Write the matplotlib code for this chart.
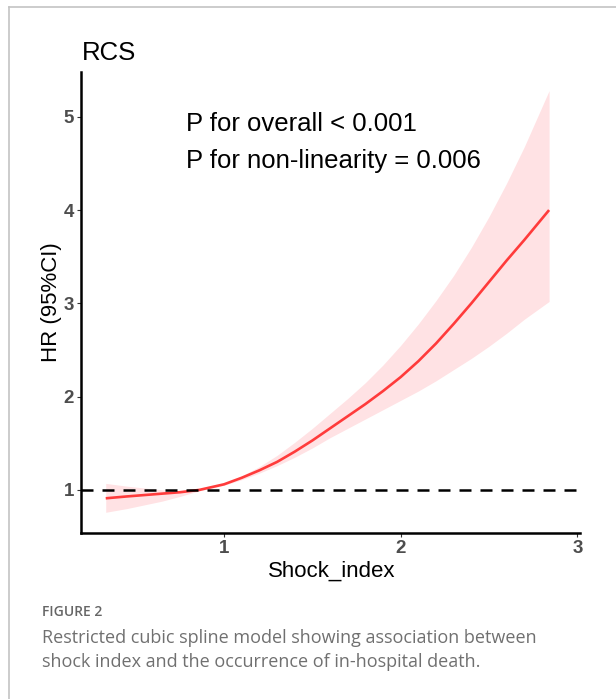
import matplotlib
matplotlib.use("Agg")
import matplotlib.pyplot as plt
from matplotlib.lines import Line2D

# Spline estimate of HR against shock index
shock_index = [0.33, 0.45, 0.55, 0.65, 0.75, 0.86, 1.0, 1.1, 1.2, 1.3, 1.4, 1.5, 1.6,
               1.7, 1.8, 1.9, 2.0, 2.1, 2.2, 2.3, 2.4, 2.5, 2.6, 2.7, 2.84]
hr = [0.91, 0.93, 0.945, 0.96, 0.975, 1.0, 1.06, 1.13, 1.21, 1.30, 1.41, 1.53, 1.66,
      1.79, 1.92, 2.06, 2.21, 2.38, 2.57, 2.78, 3.00, 3.23, 3.46, 3.68, 4.0]
hr_upper = [1.07, 1.04, 1.02, 1.0, 0.99, 1.0, 1.07, 1.15, 1.25, 1.37, 1.51, 1.66, 1.82,
            1.98, 2.15, 2.34, 2.55, 2.78, 3.03, 3.30, 3.60, 3.93, 4.29, 4.68, 5.28]
hr_lower = [0.76, 0.80, 0.84, 0.88, 0.93, 0.99, 1.05, 1.11, 1.18, 1.26, 1.35, 1.45, 1.56,
            1.66, 1.76, 1.86, 1.96, 2.06, 2.17, 2.29, 2.41, 2.54, 2.68, 2.83, 3.02]

x_ticks = [1, 2, 3]
y_ticks = [1, 2, 3, 4, 5]

W, H = 616, 699


def px(x, y):
    """Convert pixel coordinates (from top-left) to figure fractions."""
    return x / W, 1 - y / H


def main():
    fig = plt.figure(figsize=(W / 100, H / 100), dpi=100)
    fig.patch.set_facecolor("white")

    # Thin page frame on top and left
    fig.add_artist(Line2D([9 / W, 1], [1 - 7 / H, 1 - 7 / H], color="#c4c4c4", lw=1.2))
    fig.add_artist(Line2D([9 / W, 9 / W], [0, 1 - 7 / H], color="#c4c4c4", lw=1.2))

    left, right, top, bottom = 81, 580, 72, 533
    ax = fig.add_axes([left / W, 1 - bottom / H, (right - left) / W, (bottom - top) / H])

    ax.fill_between(shock_index, hr_lower, hr_upper, color="#ffe2e4", lw=0)
    ax.plot(shock_index, hr, color="#ff3b3b", lw=1.9, solid_capstyle="butt",
            solid_joinstyle="round")
    ax.axhline(1, color="black", lw=1.8, dashes=(4.8, 3.6))

    ax.set_xlim(0.19, 3.015)
    ax.set_ylim(0.538, 5.48)
    ax.set_xticks(x_ticks)
    ax.set_yticks(y_ticks)

    for s in ["top", "right"]:
        ax.spines[s].set_visible(False)
    for s in ["left", "bottom"]:
        ax.spines[s].set_linewidth(1.8)
        ax.spines[s].set_color("black")

    ax.tick_params(axis="both", length=3, width=0.8, color="#333333",
                   labelsize=13.5, labelcolor="#4d4d4d", pad=2)
    for lab in ax.get_xticklabels() + ax.get_yticklabels():
        lab.set_fontweight("bold")
        lab.set_fontfamily("Liberation Sans")

    # Titles and labels
    fig.text(*px(82, 60), "RCS", fontsize=18.5, family="Liberation Sans", va="baseline")
    fig.text(*px(186, 131), "P for overall < 0.001", fontsize=18.5,
             family="Liberation Sans", va="baseline")
    fig.text(*px(186, 168), "P for non-linearity = 0.006", fontsize=18.5,
             family="Liberation Sans", va="baseline")
    fig.text(*px(332, 577), "Shock_index", fontsize=16, family="Liberation Sans",
             ha="center", va="baseline")
    fig.text(*px(51, 302), "HR (95%CI)", fontsize=16, family="Liberation Sans",
             ha="center", va="center", rotation=90)

    # Caption
    fig.text(*px(42, 616), "FIGURE 2", fontsize=10, family="Open Sans",
             fontweight="semibold", color="#666666", va="baseline")
    fig.text(*px(42, 643), "Restricted cubic spline model showing association between",
             fontsize=13, family="Open Sans", color="#707070", va="baseline")
    fig.text(*px(42, 667), "shock index and the occurrence of in-hospital death.",
             fontsize=13, family="Open Sans", color="#707070", va="baseline")

    fig.savefig("out.png", dpi=100)


if __name__ == "__main__":
    main()
